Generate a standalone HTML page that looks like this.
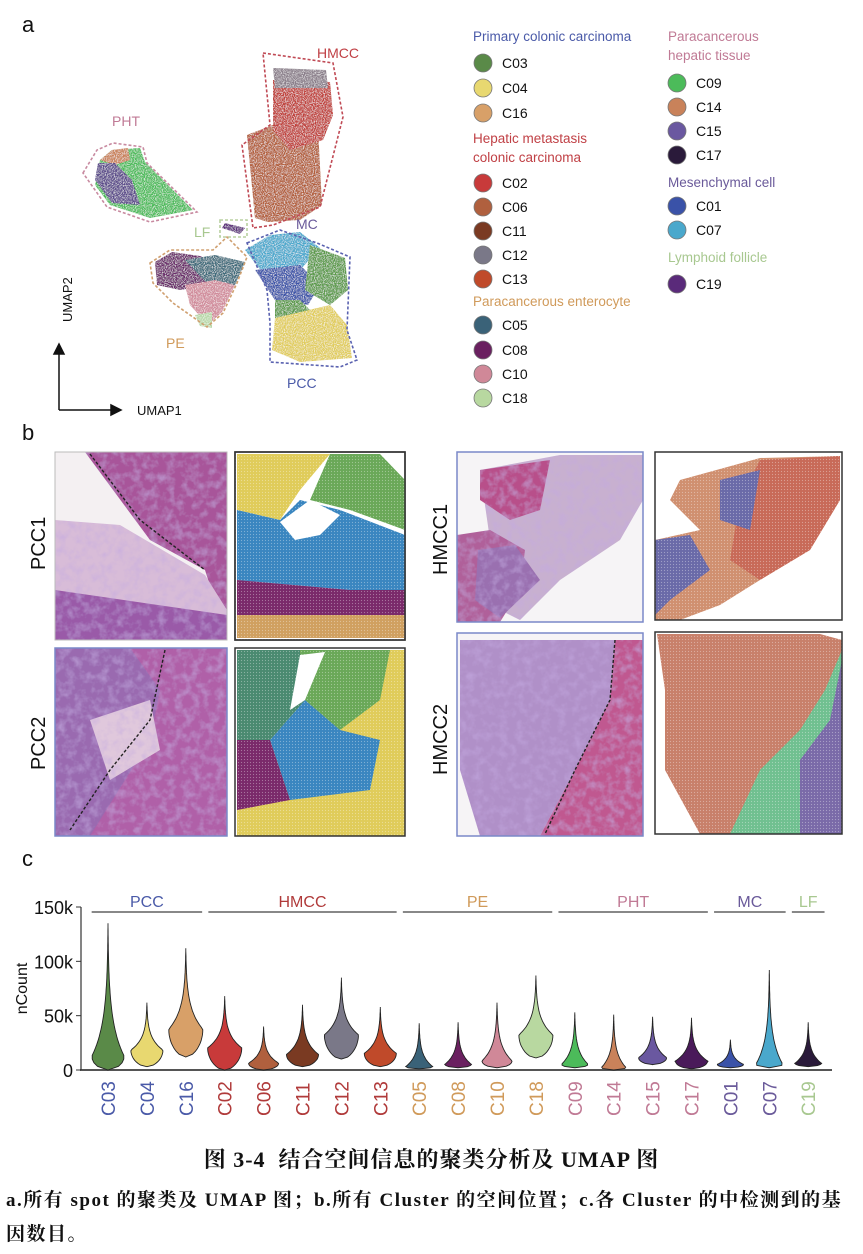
<!DOCTYPE html>
<html><head><meta charset="utf-8">
<style>
body{margin:0;background:#fff;width:863px;height:1254px;overflow:hidden;position:relative;font-family:"Liberation Sans",Arial,sans-serif}
.abs{position:absolute}
.lbl{font-size:22px;color:#111}
.cap{font-family:"Liberation Serif","Noto Serif CJK SC",serif;font-weight:bold;color:#111;white-space:nowrap}
</style></head><body>
<div class="abs lbl" style="left:22px;top:12px">a</div>
<div class="abs lbl" style="left:22px;top:420px">b</div>
<div class="abs lbl" style="left:22px;top:846px">c</div>

<svg class="abs" style="left:0;top:0" width="863" height="430">
<defs>
<filter id="grain"><feTurbulence type="fractalNoise" baseFrequency="0.9" numOctaves="1" result="n"/><feColorMatrix in="n" type="matrix" values="0 0 0 0 1  0 0 0 0 1  0 0 0 0 1  0 0 0 -2.2 1.25" result="w"/><feComposite in="w" in2="SourceGraphic" operator="in" result="wm"/><feMerge><feMergeNode in="SourceGraphic"/><feMergeNode in="wm"/></feMerge></filter>
</defs>
<g filter="url(#grain)">
<polygon points="247,135 273,125 318,128 322,205 300,220 268,222 255,218" fill="#b35e3a"/>
<polygon points="273,80 330,82 333,115 323,140 290,150 273,130" fill="#c0403a"/>
<polygon points="273,68 326,70 328,88 275,88" fill="#8a7e8a"/>
<polygon points="100,160 112,150 140,148 145,162 193,210 150,218 110,205 95,185" fill="#4cbb5a"/>
<polygon points="100,160 112,150 128,148 130,160 115,165" fill="#c9825a"/>
<polygon points="95,180 98,163 115,163 132,180 140,205 112,203" fill="#5a4a8a"/>
<polygon points="155,262 172,252 200,256 220,265 210,285 180,290 157,285" fill="#6a2a6a"/>
<polygon points="185,260 215,255 245,262 235,285 215,292" fill="#3d6a7a"/>
<polygon points="185,285 215,280 235,285 222,312 208,325 190,305" fill="#d08a9a"/>
<polygon points="195,315 212,312 212,328 200,326" fill="#b8d8a8"/>
<polygon points="245,250 270,235 300,232 320,248 300,270 262,272" fill="#4aa8cc"/>
<polygon points="255,270 300,265 320,285 308,305 275,300" fill="#3a52a8"/>
<polygon points="310,245 345,258 348,290 330,305 305,290" fill="#5a9a48"/>
<polygon points="275,300 300,300 315,315 300,320 275,318" fill="#5a9a48"/>
<polygon points="275,318 330,305 347,325 352,358 300,362 272,350" fill="#e0cc5a"/>
<polygon points="225,223 245,228 240,234 222,228" fill="#5a2a7a"/>
</g>
<g fill="none" stroke-dasharray="3,2" stroke-width="1.6">
<polygon points="263,53 333,63 343,117 320,207 273,225 253,228 242,145 270,125" stroke="#c04a55"/>
<polygon points="83,173 97,150 113,143 143,147 147,163 197,212 150,222 107,207" stroke="#c88aa0"/>
<polygon points="150,263 170,250 213,250 227,237 247,257 237,283 223,313 207,327 173,303 153,283" stroke="#d0a070"/>
<polygon points="247,243 280,230 317,243 350,257 347,330 357,360 340,367 270,362 270,323 267,290" stroke="#5a62b0"/>
<rect x="220" y="220" width="27" height="17" stroke="#b8d0a0"/>
</g>
<g font-size="14">
<text x="317" y="58" fill="#c04045">HMCC</text>
<text x="112" y="126" fill="#c07a95">PHT</text>
<text x="194" y="237" fill="#a8c890">LF</text>
<text x="296" y="229" fill="#6a5a9a">MC</text>
<text x="166" y="348" fill="#d09a5a">PE</text>
<text x="287" y="388" fill="#4a5aa8">PCC</text>
</g>
<g stroke="#111" stroke-width="1.5" fill="#111">
<line x1="59" y1="410" x2="59" y2="352"/><polygon points="54,354 64,354 59,344"/>
<line x1="59" y1="410" x2="113" y2="410"/><polygon points="111,405 111,415 121,410"/>
</g>
<text x="137" y="415" font-size="13" fill="#111">UMAP1</text>
<text transform="translate(72,322) rotate(-90)" font-size="13" fill="#111">UMAP2</text>
<g id="legend"></g>
</svg>

<svg class="abs" style="left:0;top:440" width="863" height="405">
<defs>
<filter id="tex"><feTurbulence type="fractalNoise" baseFrequency="0.12" numOctaves="3" result="n"/><feColorMatrix in="n" type="matrix" values="0 0 0 0 0.55  0 0 0 0 0.4  0 0 0 0 0.75  0 0 0 1.2 -0.5" result="c"/><feComposite in="c" in2="SourceGraphic" operator="in" result="cc"/><feMerge><feMergeNode in="SourceGraphic"/><feMergeNode in="cc"/></feMerge></filter>
<pattern id="dots" width="3" height="3" patternUnits="userSpaceOnUse"><circle cx="1.5" cy="1.5" r="0.6" fill="#fff" opacity="0.35"/></pattern>
</defs>
<g>
<rect x="55" y="12" width="172" height="188" fill="#f4f0f2"/>
<g filter="url(#tex)"><polygon points="85,12 227,12 227,200 205,130 150,100" fill="#a8559a"/>
<polygon points="55,80 120,85 205,135 227,170 227,200 55,200" fill="#d8bcd8"/>
<polygon points="55,150 227,175 227,200 55,200" fill="#9a5aa8"/></g>
<polyline points="90,14 140,80 205,130" fill="none" stroke="#222" stroke-dasharray="3,2" stroke-width="1.4"/>
<rect x="55" y="12" width="172" height="188" fill="none" stroke="#bbb"/>
</g>
<g>
<rect x="235" y="12" width="170" height="188" fill="#fff" stroke="#333" stroke-width="1.5"/>
<polygon points="237,14 330,14 300,50 280,80 237,70" fill="#e0cc5a"/>
<polygon points="330,14 380,14 405,40 405,90 350,70 310,60" fill="#6aa858"/>
<polygon points="237,70 280,80 300,60 340,70 405,95 405,150 350,150 237,140" fill="#3a86c0"/>
<polygon points="237,140 350,150 405,150 405,175 237,175" fill="#7a2a6a"/>
<polygon points="237,175 405,175 405,198 237,198" fill="#d0a060"/>
<polygon points="280,82 310,60 340,75 320,95 295,100" fill="#fff"/>
<rect x="235" y="12" width="170" height="188" fill="url(#dots)" stroke="#333" stroke-width="1.5"/>
</g>
<g>
<rect x="55" y="208" width="172" height="188" fill="#f4f0f2"/>
<g filter="url(#tex)"><polygon points="55,208 227,208 227,396 55,396" fill="#b060a8"/>
<polygon points="55,208 130,208 160,250 150,300 90,396 55,396" fill="#9a6ab0"/>
<polygon points="90,280 150,260 160,310 110,340" fill="#e0c8dc"/></g>
<polyline points="165,210 150,280 110,330 70,390" fill="none" stroke="#222" stroke-dasharray="3,2" stroke-width="1.4"/>
<rect x="55" y="208" width="172" height="188" fill="none" stroke="#7a88c8" stroke-width="1.5"/>
</g>
<g>
<rect x="235" y="208" width="170" height="188" fill="#fff"/>
<polygon points="237,210 405,210 405,396 237,396" fill="#e0cc5a"/>
<polygon points="237,210 300,210 305,260 270,300 237,300" fill="#4a8a70"/>
<polygon points="300,210 390,210 380,260 340,290 305,260" fill="#6aa858"/>
<polygon points="270,300 305,260 340,290 380,300 370,350 290,360" fill="#3a86c0"/>
<polygon points="237,300 270,300 290,360 237,370" fill="#7a2a6a"/>
<polygon points="300,215 325,212 305,260 290,270" fill="#fff"/>
<rect x="235" y="208" width="170" height="188" fill="url(#dots)" stroke="#333" stroke-width="1.5"/>
</g>
<g>
<rect x="457" y="12" width="186" height="170" fill="#f6f4f6"/>
<g filter="url(#tex)"><polygon points="480,30 560,15 643,15 643,60 620,100 560,140 520,180 500,170" fill="#c8b0d0"/>
<polygon points="480,30 550,20 540,70 510,80 480,60" fill="#b8508a"/>
<polygon points="457,95 490,90 525,110 520,150 500,182 457,182" fill="#b0609a"/>
<polygon points="478,110 515,105 540,140 500,178 475,160" fill="#9a70b0"/></g>
<rect x="457" y="12" width="186" height="170" fill="none" stroke="#7a88c8" stroke-width="1.5"/>
</g>
<g>
<rect x="655" y="12" width="187" height="168" fill="#fff"/>
<polygon points="680,40 760,18 840,16 840,60 810,110 760,140 720,165 680,180 655,180 655,100 700,90 670,60" fill="#d09070"/>
<polygon points="760,20 840,16 840,60 810,110 760,140 730,120 740,60" fill="#c86a58"/>
<polygon points="720,40 760,30 750,90 720,80" fill="#6a6aa8"/>
<polygon points="655,100 690,95 710,130 670,160 655,175" fill="#6a6aa8"/>
<rect x="655" y="12" width="187" height="168" fill="url(#dots)" stroke="#333" stroke-width="1.5"/>
</g>
<g>
<rect x="457" y="193" width="186" height="203" fill="#f6f4f6"/>
<g filter="url(#tex)"><polygon points="460,200 615,200 610,260 575,330 540,396 480,396 460,330" fill="#b090c8"/>
<polygon points="615,200 643,200 643,396 540,396 575,330 610,260" fill="#c05890"/></g>
<polyline points="615,200 610,260 575,330 545,394" fill="none" stroke="#222" stroke-dasharray="3,2" stroke-width="1.4"/>
<rect x="457" y="193" width="186" height="203" fill="none" stroke="#7a88c8" stroke-width="1.5"/>
</g>
<g>
<rect x="655" y="192" width="187" height="202" fill="#fff"/>
<polygon points="657,194 820,194 842,200 842,394 700,394 665,330 665,250" fill="#c8806a"/>
<polygon points="842,210 842,394 730,394 760,330 800,290 825,250" fill="#70c090"/>
<polygon points="842,220 842,394 800,394 800,320 830,280" fill="#7a6aa8"/>
<rect x="655" y="192" width="187" height="202" fill="url(#dots)" stroke="#333" stroke-width="1.5"/>
</g>
<g font-size="20" fill="#111">
<text transform="translate(45,130) rotate(-90)">PCC1</text>
<text transform="translate(45,330) rotate(-90)">PCC2</text>
<text transform="translate(447,135) rotate(-90)">HMCC1</text>
<text transform="translate(447,335) rotate(-90)">HMCC2</text>
</g>
</svg>

<svg class="abs" style="left:0;top:860" width="863" height="260" id="violin"></svg>

<div class="abs cap" style="left:0;width:863px;text-align:center;top:1143px;font-size:22px;letter-spacing:1px">图 3-4&nbsp; 结合空间信息的聚类分析及 UMAP 图</div>
<div class="abs cap" style="left:6px;top:1185px;font-size:19px;letter-spacing:1.5px">a.所有 spot 的聚类及 UMAP 图；b.所有 Cluster 的空间位置；c.各 Cluster 的中检测到的基</div>
<div class="abs cap" style="left:6px;top:1219px;font-size:19px;letter-spacing:1.5px">因数目。</div>

<script>
const NS='http://www.w3.org/2000/svg';
function mk(p,t,a){const e=document.createElementNS(NS,t);for(const k in a)e.setAttribute(k,a[k]);p.appendChild(e);return e;}

const legendHeadings=[["Primary colonic carcinoma","#4a5aa8",473,41],["Hepatic metastasis","#c04045",473,143],["colonic carcinoma","#c04045",473,162],["Paracancerous enterocyte","#d09a5a",473,306],["Paracancerous","#c07a95",668,41],["hepatic tissue","#c07a95",668,60],["Mesenchymal cell","#6a5a9a",668,187],["Lymphoid follicle","#a8c890",668,262]];
const legendItems=[["C03","#5a8a48",483,63],["C04","#e8d870",483,88],["C16","#d8a068",483,113],["C02","#c83a3a",483,183],["C06","#b0603e",483,207],["C11","#7a3a22",483,231],["C12","#7a7888",483,255],["C13","#c04a2a",483,279],["C05","#3a6278",483,325],["C08","#6a2060",483,350],["C10","#d08898",483,374],["C18","#b8d8a0",483,398],["C09","#4cbb5a",677,83],["C14","#c9825a",677,107],["C15","#6a58a0",677,131],["C17","#2a1a3a",677,155],["C01","#3a52a8",677,206],["C07","#4aa8cc",677,230],["C19","#5a2a7a",677,284]];
const lg=document.getElementById('legend');
legendHeadings.forEach(h=>{const t=mk(lg,'text',{x:h[2],y:h[3],fill:h[1],'font-size':13.5});t.textContent=h[0];

});
legendItems.forEach(it=>{const c=mk(lg,'circle',{cx:it[2],cy:it[3],r:9,fill:it[1],stroke:'#777','stroke-width':0.8});


const t=mk(lg,'text',{x:it[2]+19,y:it[3]+5,fill:'#111','font-size':14});t.textContent=it[0];

});

const clusters=["C03","C04","C16","C02","C06","C11","C12","C13","C05","C08","C10","C18","C09","C14","C15","C17","C01","C07","C19"];
const vMin=[0,3,12,0,0,3,10,3,1,2,2,11,2,0,5,1,2,2,3];
const vMax=[135,62,112,68,40,60,85,58,43,44,62,87,53,51,49,48,28,92,44];
const vMode=[12,18,37,20,6,14,32,15,3,5,8,32,5,2,11,8,5,5,6];
const vWidth=[16,16,17,17,15,16,17,16,13,13,15,17,13,12,14,16,13,13,13];
const vColors=["#5a8a48","#e8d870","#d8a068","#c83a3a","#b0603e","#7a3a22","#7a7888","#c04a2a","#3a6278","#6a2060","#d08898","#b8d8a0","#4cbb5a","#c9825a","#6a58a0","#4a1a5a","#3a52a8","#4aa8cc","#2a1a3a"];
const labelColors=["#4a5aa8","#4a5aa8","#4a5aa8","#b03a3a","#b03a3a","#b03a3a","#b03a3a","#b03a3a","#d09a5a","#d09a5a","#d09a5a","#d09a5a","#c07a95","#c07a95","#c07a95","#c07a95","#6a5a9a","#6a5a9a","#a8c890"];
const groups=["PCC","HMCC","PE","PHT","MC","LF"];
const groupStart=[0,3,8,12,16,18];
const groupEnd=[2,7,11,15,17,18];
const groupColors=["#4a5aa8","#b03a3a","#d09a5a","#c07a95","#6a5a9a","#a8c890"];
const yTicks=[0,50,100,150];
const yTickLabels=["0","50k","100k","150k"];

const svg=document.getElementById('violin');
const X0=108,STEP=38.9,Y0=210,YS=163/150;
const xs=i=>X0+i*STEP;
const ys=v=>Y0-v*YS;

const ax=mk(svg,'line',{x1:80,y1:ys(0),x2:832,y2:ys(0),stroke:'#555','stroke-width':2});


const ay=mk(svg,'line',{x1:81,y1:ys(0),x2:81,y2:ys(150),stroke:'#333','stroke-width':1.2});


yTicks.forEach((v,i)=>{mk(svg,'line',{x1:76,y1:ys(v),x2:81,y2:ys(v),stroke:'#333'});
const t=mk(svg,'text',{x:73,y:ys(v)+7,'text-anchor':'end','font-size':18,fill:'#111'});t.textContent=yTickLabels[i];

});
const yt=mk(svg,'text',{transform:'translate(27,'+ys(75)+') rotate(-90)','text-anchor':'middle','font-size':16,fill:'#111'});yt.textContent='nCount';



clusters.forEach((c,i)=>{
 const cx=xs(i),lo=vMin[i],hi=vMax[i],mo=vMode[i],w=vWidth[i];
 const pts=[];const N=40;
 for(let k=0;k<=N;k++){const v=lo+(hi-lo)*k/N;let d;
  if(v<=mo){const r=(mo-lo)>0?(v-lo)/(mo-lo):1;d=w*Math.pow(Math.sin(r*Math.PI/2),0.5);if(mo-lo<0.01)d=w;}
  else{const r=(v-mo)/(hi-mo);d=w*Math.exp(-3.2*r)*(1-r)+0.6*(1-r);}
  pts.push([d,ys(v)]);}
 let dstr='M'+cx+','+ys(lo);
 pts.forEach(p=>dstr+=' L'+(cx+p[0]).toFixed(1)+','+p[1].toFixed(1));
 for(let k=pts.length-1;k>=0;k--)dstr+=' L'+(cx-pts[k][0]).toFixed(1)+','+pts[k][1].toFixed(1);
 dstr+='Z';
 const p=mk(svg,'path',{d:dstr,fill:vColors[i],stroke:'#222','stroke-width':0.9});
 
 
 const t=mk(svg,'text',{transform:'translate('+(cx+7)+',256) rotate(-90)','font-size':19,fill:labelColors[i]});t.textContent=c;
 
 
});
groups.forEach((g,i)=>{const a=xs(groupStart[i])-STEP*0.42,b=xs(groupEnd[i])+STEP*0.42;
 const l=mk(svg,'line',{x1:a,y1:52,x2:b,y2:52,stroke:'#888','stroke-width':2});
 
 
 const t=mk(svg,'text',{x:(a+b)/2,y:47,'text-anchor':'middle','font-size':16,fill:groupColors[i]});t.textContent=g;
 
 });
</script>
</body></html>
